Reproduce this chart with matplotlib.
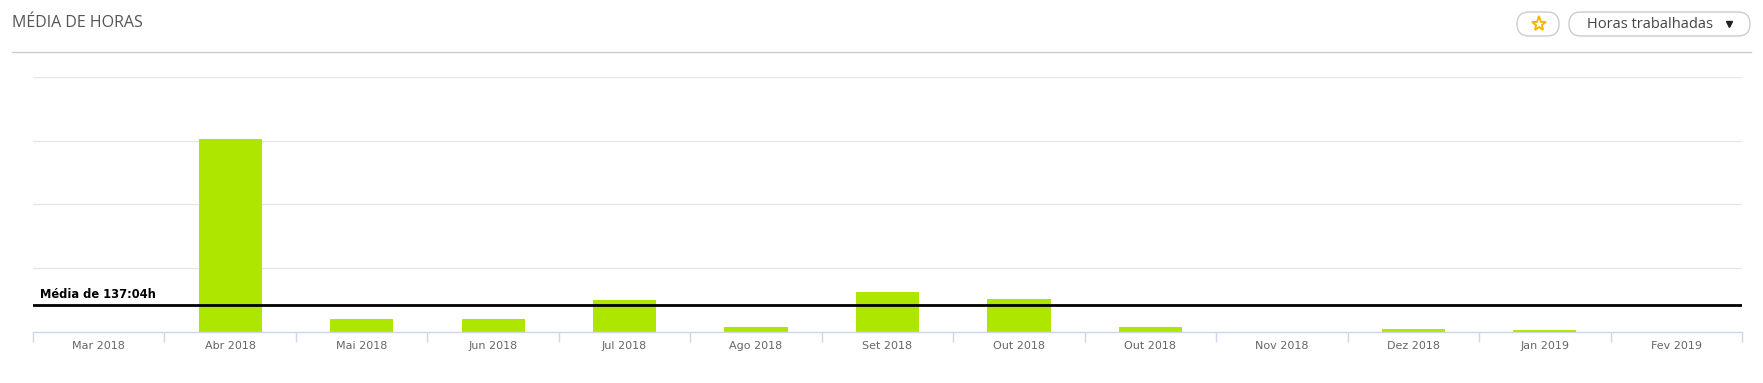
import matplotlib
matplotlib.use("Agg")
import matplotlib.pyplot as plt
from matplotlib.patches import FancyBboxPatch
import numpy as np

# data (hours worked per month)
meses = ["Mar 2018", "Abr 2018", "Mai 2018", "Jun 2018", "Jul 2018", "Ago 2018",
         "Set 2018", "Out 2018", "Out 2018", "Nov 2018", "Dez 2018", "Jan 2019", "Fev 2019"]
horas = [0, 1012, 66, 66, 166, 24, 208, 171, 24, 0, 13, 8, 0]
media = 137 + 4 / 60.0
media_label = "Média de 137:04h"
passo = 20000 / 60.0   # grid step (20000 min)

W, H = 1763, 383
fig = plt.figure(figsize=(W / 100, H / 100), dpi=100)
fig.patch.set_facecolor("white")

# ---- header (title, buttons) in pixel coords
hdr = fig.add_axes([0, 0, 1, 1])
hdr.set_xlim(0, W)
hdr.set_ylim(H, 0)
hdr.axis("off")
hdr.text(12, 23, "MÉDIA DE HORAS", fontsize=11.5, family="Open Sans", color="#555555",
         va="center", ha="left")
hdr.plot([12, 1751], [52, 52], color="#cccccc", lw=1)
hdr.add_patch(FancyBboxPatch((1517, 12), 42, 24, boxstyle="round,pad=0,rounding_size=12",
                             fc="white", ec="#cccccc", lw=1))
hdr.plot([1538.5], [24], marker="*", ms=11, mfc="none", mec="#f2b705", mew=1.4)
hdr.add_patch(FancyBboxPatch((1569, 12), 181, 24, boxstyle="round,pad=0,rounding_size=12",
                             fc="white", ec="#cccccc", lw=1))
hdr.text(1650, 24, "Horas trabalhadas", fontsize=10.5, family="Open Sans", color="#444444",
         ha="center", va="center")
hdr.plot([1729], [24], marker="v", color="#222222", ms=5)

# ---- chart
ax = fig.add_axes([33 / W, 1 - 331.5 / H, (1742 - 33) / W, (331.5 - 77.3) / H])
x = np.arange(len(meses))
ax.bar(x, horas, width=0.48, color="#afe600", zorder=2)
ax.set_xlim(-0.5, len(meses) - 0.5)
ax.set_ylim(0, 4 * passo)
ax.set_yticks([passo * i for i in range(1, 5)])
ax.yaxis.grid(True, color="#e6e6e6", lw=1, zorder=0)
ax.tick_params(axis="y", left=False, labelleft=False)

ax.set_xticks(np.arange(-0.5, len(meses)), labels=[""] * (len(meses) + 1))
ax.set_xticks(x, labels=meses, minor=True)
ax.tick_params(axis="x", which="major", length=7.2, width=1, color="#ccd6eb", direction="out")
ax.tick_params(axis="x", which="minor", length=0, pad=7, labelsize=8, labelcolor="#666666")

for s in ["top", "left", "right"]:
    ax.spines[s].set_visible(False)
ax.spines["bottom"].set_color("#ccd6eb")
ax.spines["bottom"].set_linewidth(1)

ax.axhline(media, color="black", lw=2, zorder=3)
ax.annotate(media_label, xy=(0, media), xycoords=("axes fraction", "data"),
            xytext=(7, 4), textcoords="offset pixels", fontsize=8.3, fontweight="bold",
            color="black", ha="left", va="bottom", zorder=4)

fig.savefig("out.png", dpi=100, facecolor="white")
